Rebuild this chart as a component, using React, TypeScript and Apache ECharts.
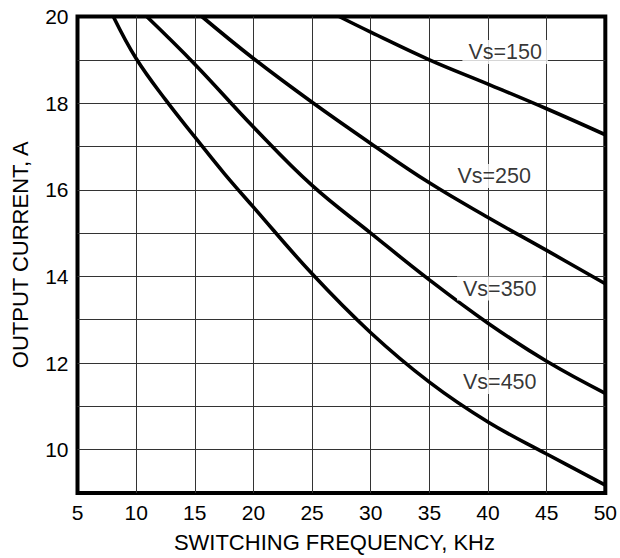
import React, { useEffect, useRef } from "react";
import * as echarts from "echarts";

// Switching frequency (kHz) vs output current (A)
const vs150: [number, number][] = [[27.3, 20], [30, 19.64], [35, 19.0], [40, 18.44], [45, 17.87], [50, 17.27]];
const vs250: [number, number][] = [[15.6, 20], [20, 19.03], [25, 18.02], [30, 17.07], [35, 16.16], [40, 15.36], [45, 14.6], [50, 13.83]];
const vs350: [number, number][] = [[10.9, 20], [15, 18.9], [20, 17.45], [25, 16.1], [30, 15.0], [35, 13.92], [40, 12.92], [45, 12.04], [50, 11.3]];
const vs450: [number, number][] = [[8.05, 20], [10, 19.03], [12.5, 18.08], [15, 17.22], [17.5, 16.38], [20, 15.6], [25, 14.06], [30, 12.7], [35, 11.56], [40, 10.64], [45, 9.9], [50, 9.18]];

const curveLabels: [number, number, string][] = [
  [41.46, 19.18, "Vs=150"],
  [40.53, 16.32, "Vs=250"],
  [41.0, 13.72, "Vs=350"],
  [41.0, 11.56, "Vs=450"],
];

const xName = "SWITCHING FREQUENCY, KHz";
const yName = "OUTPUT CURRENT, A";

const FONT = "'Liberation Sans', Arial, Helvetica, sans-serif";

export default function App() {
  const ref = useRef<HTMLDivElement>(null);
  useEffect(() => {
    document.body.style.margin = "0";
    if (!ref.current) return;
    const chart = echarts.init(ref.current, undefined, { renderer: "svg" });
    const curve = (data: [number, number][]) => ({
      type: "line",
      data,
      smooth: 0.4,
      symbol: "none",
      lineStyle: { color: "#000", width: 3.6 },
      z: 3,
    });
    chart.setOption({
      animation: false,
      backgroundColor: "#fff",
      textStyle: { fontFamily: FONT },
      grid: {
        left: 77.5,
        right: 12.5,
        top: 16.5,
        bottom: 63.5,
        show: true,
        borderColor: "#000",
        borderWidth: 4,
        backgroundColor: "#fff",
      },
      xAxis: {
        type: "value",
        min: 5,
        max: 50,
        interval: 5,
        name: xName,
        nameLocation: "middle",
        nameGap: 38,
        nameTextStyle: { fontSize: 22, color: "#000", fontFamily: FONT, padding: [0, 14, 0, 0] },
        axisLine: { show: false },
        axisTick: { show: false },
        axisLabel: { fontSize: 21, color: "#000", margin: 9, fontFamily: FONT },
        splitLine: { show: true, showMinLine: false, showMaxLine: false, lineStyle: { color: "#333", width: 1 } },
      },
      yAxis: {
        type: "value",
        min: 9,
        max: 20,
        interval: 1,
        name: yName,
        nameLocation: "middle",
        nameGap: 46,
        nameTextStyle: { fontSize: 22, color: "#000", fontFamily: FONT },
        axisLine: { show: false },
        axisTick: { show: false },
        axisLabel: {
          fontSize: 21,
          color: "#000",
          margin: 9,
          fontFamily: FONT,
          formatter: (v: number) => (v % 2 === 0 ? String(v) : ""),
        },
        splitLine: { show: true, showMinLine: false, showMaxLine: false, lineStyle: { color: "#333", width: 1 } },
      },
      series: [
        curve(vs150),
        curve(vs250),
        curve(vs350),
        curve(vs450),
        {
          type: "scatter",
          data: curveLabels,
          symbolSize: 1,
          itemStyle: { color: "rgba(0,0,0,0)" },
          z: 4,
          label: {
            show: true,
            position: "inside",
            formatter: (p: any) => p.data[2],
            color: "#000",
            fontSize: 21.5,
            fontFamily: FONT,
            backgroundColor: "#fff",
            padding: [1, 6],
            textBorderWidth: 0,
          },
        },
      ],
    });
    return () => chart.dispose();
  }, []);
  return <div ref={ref} style={{ width: 620, height: 558 }} />;
}
